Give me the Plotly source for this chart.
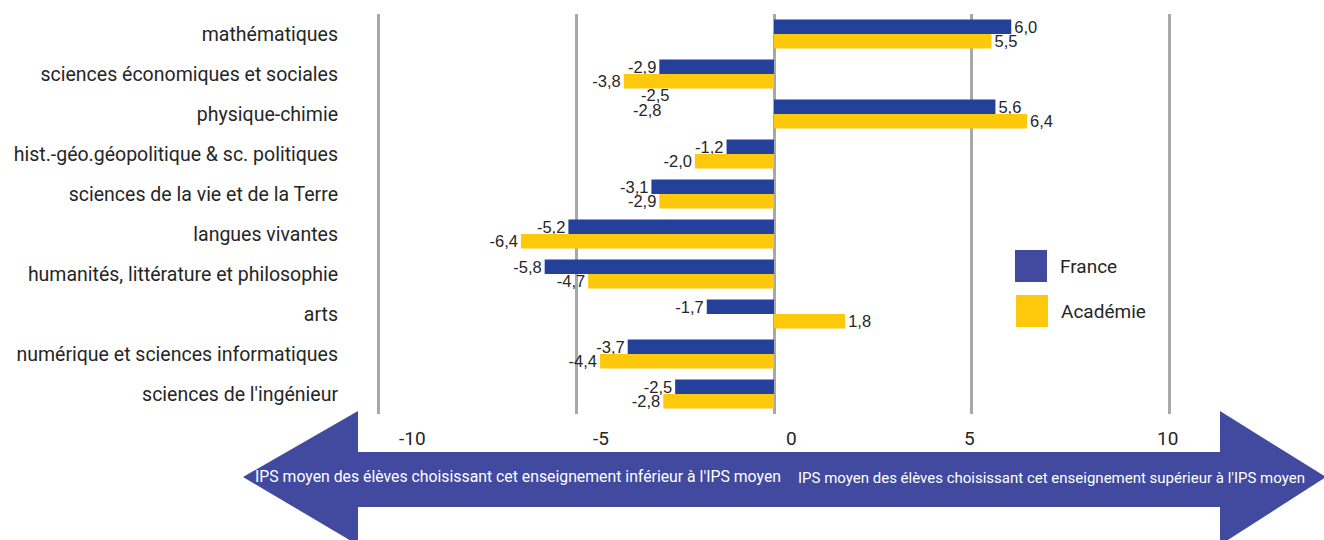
import plotly.graph_objects as go

categories = [
    "mathématiques",
    "sciences économiques et sociales",
    "physique-chimie",
    "hist.-géo.géopolitique & sc. politiques",
    "sciences de la vie et de la Terre",
    "langues vivantes",
    "humanités, littérature et philosophie",
    "arts",
    "numérique et sciences informatiques",
    "sciences de l'ingénieur",
]
france = [6.0, -2.9, 5.6, -1.2, -3.1, -5.2, -5.8, -1.7, -3.7, -2.5]
academie = [5.5, -3.8, 6.4, -2.0, -2.9, -6.4, -4.7, 1.8, -4.4, -2.8]
tick_labels = ["-10", "-5", "0", "5", "10"]
arrow_left_text = "IPS moyen des élèves choisissant cet enseignement inférieur à l'IPS moyen"
arrow_right_text = "IPS moyen des élèves choisissant cet enseignement supérieur à l'IPS moyen"
series_names = ["France", "Académie"]

W, H = 1324, 540
L, R, T, B = 377, 153, 14, 126
PW, PH = W - L - R, H - T - B


def px(x):
    return (x - L) / PW


def py(y):
    return (H - B - y) / PH


def fmt(v):
    return f"{v:.1f}".replace(".", ",")


C_FR = "#23409A"
C_AC = "#FFC90B"
C_ARROW = "#414A9E"
TXT = "#262626"
LBL_FONT = dict(family="Liberation Sans, Arial", size=16.5, color=TXT)

fig = go.Figure()
fig.add_trace(go.Bar(
    y=categories, x=france, orientation="h", name=series_names[0],
    marker=dict(color=C_FR, line=dict(width=0)),
    text=[fmt(v) for v in france], textposition="outside", textfont=LBL_FONT,
    constraintext="none", cliponaxis=False, showlegend=False,
))
fig.add_trace(go.Bar(
    y=categories, x=academie, orientation="h", name=series_names[1],
    marker=dict(color=C_AC, line=dict(width=0)),
    text=[fmt(v) for v in academie], textposition="outside", textfont=LBL_FONT,
    constraintext="none", cliponaxis=False, showlegend=False,
))

shapes = []
# double arrow
tipL, baseL, baseR, tipR = 243, 358, 1220, 1326
yc, sh_top, sh_bot, hd_top, hd_bot = 477, 452, 507, 411, 545
pts = [(tipL, yc), (baseL, hd_top), (baseL, sh_top), (baseR, sh_top), (baseR, hd_top),
       (tipR, yc), (baseR, hd_bot), (baseR, sh_bot), (baseL, sh_bot), (baseL, hd_bot)]
path = "M " + " L ".join(f"{px(a):.5f},{py(b):.5f}" for a, b in pts) + " Z"
shapes.append(dict(type="path", path=path, xref="paper", yref="paper",
                   fillcolor=C_ARROW, line=dict(width=0), layer="above"))

# custom legend swatches
leg = [(1015, 250, C_ARROW), (1016, 295, C_AC)]
for (x0, y0, c) in leg:
    shapes.append(dict(type="rect", xref="paper", yref="paper",
                       x0=px(x0), x1=px(x0 + 32), y0=py(y0 + 32), y1=py(y0),
                       fillcolor=c, line=dict(width=0)))

annotations = []
for name, (x0, y0, c) in zip(series_names, leg):
    annotations.append(dict(text=name, xref="paper", yref="paper",
                            x=px(x0 + 43), y=py(y0 + 16), xanchor="left", yanchor="middle",
                            showarrow=False, font=dict(family="Roboto", size=19, color=TXT)))

tick_px = [412, 601, 791, 969, 1167]
for t, xp in zip(tick_labels, tick_px):
    annotations.append(dict(text=t, xref="paper", yref="paper", x=px(xp), y=py(438),
                            xanchor="center", yanchor="middle", showarrow=False,
                            font=dict(family="Roboto", size=19, color=TXT)))

annotations.append(dict(text=arrow_left_text, xref="paper", yref="paper", x=px(518), y=py(476),
                        xanchor="center", yanchor="middle", showarrow=False,
                        font=dict(family="Roboto", size=15.8, color="white")))
annotations.append(dict(text=arrow_right_text, xref="paper", yref="paper", x=px(1051), y=py(478),
                        xanchor="center", yanchor="middle", showarrow=False,
                        font=dict(family="Roboto", size=15.0, color="white")))

# stray duplicate labels present in the source chart
annotations.append(dict(text=fmt(france[9]), x=france[9], y=categories[2], xref="x", yref="y",
                        xanchor="right", yanchor="middle", xshift=-4, yshift=19, showarrow=False,
                        font=LBL_FONT))
annotations.append(dict(text=fmt(academie[9]), x=academie[9], y=categories[2], xref="x", yref="y",
                        xanchor="right", yanchor="middle", xshift=0, yshift=4, showarrow=False,
                        font=LBL_FONT))

fig.update_layout(
    width=W, height=H,
    margin=dict(l=L, r=R, t=T, b=B, pad=0, autoexpand=False),
    paper_bgcolor="white", plot_bgcolor="white",
    barmode="group", bargap=0.27, bargroupgap=0,
    shapes=shapes, annotations=annotations,
    xaxis=dict(range=[-10.04, 10.04], dtick=5, tick0=0, showgrid=True, gridcolor="#A8A8A8",
               gridwidth=2.5, zeroline=False, showticklabels=False, showline=False,
               automargin=False, fixedrange=True),
    yaxis=dict(autorange="reversed", showgrid=False, zeroline=False, ticks="",
               ticklabelstandoff=38, automargin=False,
               tickfont=dict(family="Roboto", size=19.5, color=TXT)),
)

fig.write_html("out.html", config={"displayModeBar": False},
               post_script="document.body.style.margin='0px';document.body.style.overflow='hidden';")
